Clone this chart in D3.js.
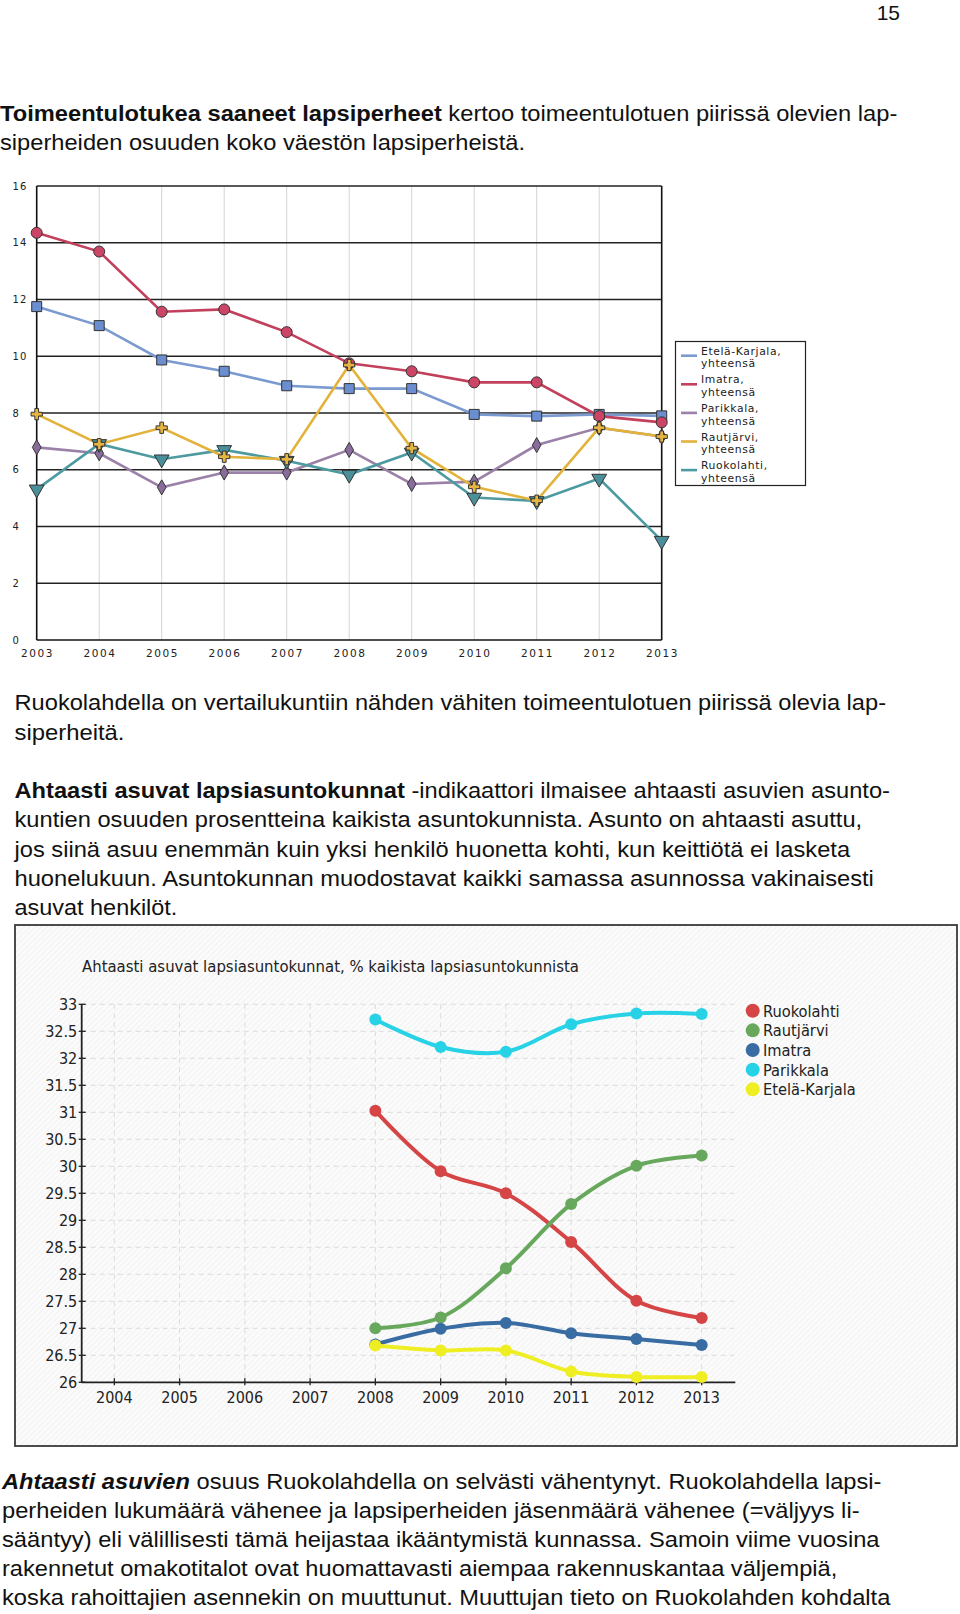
<!DOCTYPE html>
<html><head><meta charset="utf-8">
<script src="https://cdn.jsdelivr.net/npm/d3@7"></script>
<style>body{margin:0;background:#fff}svg{display:block}</style>
</head><body>
<svg id="c" width="960" height="1614"></svg>
<script>
// ---------- Chart 1 data: Toimeentulotukea saaneet lapsiperheet (%) ----------
const years1 = [2003,2004,2005,2006,2007,2008,2009,2010,2011,2012,2013];
const yTicks1 = [0,2,4,6,8,10,12,14,16];
const names1 = ["Etelä-Karjala,|yhteensä","Imatra,|yhteensä","Parikkala,|yhteensä","Rautjärvi,|yhteensä","Ruokolahti,|yhteensä"];
const eteläKarjala1 = [11.75,11.08,9.87,9.47,8.96,8.86,8.86,7.95,7.89,7.95,7.90];
const imatra1       = [14.35,13.69,11.57,11.65,10.85,9.75,9.47,9.08,9.08,7.89,7.67];
const parikkala1    = [6.79,6.58,5.38,5.90,5.90,6.70,5.50,5.58,6.87,7.48,7.17];
const rautjärvi1    = [7.96,6.90,7.48,6.46,6.37,9.69,6.76,5.40,4.91,7.48,7.17];
const ruokolahti1   = [5.31,6.91,6.37,6.70,6.32,5.83,6.61,5.02,4.90,5.69,3.50];

// ---------- Chart 2 data: Ahtaasti asuvat lapsiasuntokunnat (%) ----------
const years2 = [2008,2009,2010,2011,2012,2013];
const xTicks2 = [2004,2005,2006,2007,2008,2009,2010,2011,2012,2013];
const yTicks2 = [26,26.5,27,27.5,28,28.5,29,29.5,30,30.5,31,31.5,32,32.5,33];
const names2 = ["Ruokolahti","Rautjärvi","Imatra","Parikkala","Etelä-Karjala"];
const ruokolahti2   = [31.03,29.91,29.50,28.60,27.51,27.19];
const rautjärvi2    = [27.00,27.20,28.11,29.30,30.01,30.20];
const imatra2       = [26.70,26.99,27.10,26.91,26.80,26.69];
const parikkala2    = [32.72,32.21,32.12,32.63,32.83,32.82];
const eteläKarjala2 = [26.68,26.59,26.59,26.20,26.10,26.10];
const title2 = "Ahtaasti asuvat lapsiasuntokunnat, % kaikista lapsiasuntokunnista";

const svg = d3.select("#c");

// ---------- page text ----------
const paraLines = [
 {x:0, y:121, w:898, segs:[["Toimeentulotukea saaneet lapsiperheet","bold"],[" kertoo toimeentulotuen piirissä olevien lap-",""]]},
 {x:0, y:150, w:525, segs:[["siperheiden osuuden koko väestön lapsiperheistä.",""]]},
 {x:14.5, y:710, w:872, segs:[["Ruokolahdella on vertailukuntiin nähden vähiten toimeentulotuen piirissä olevia lap-",""]]},
 {x:14.5, y:739.5, w:110, segs:[["siperheitä.",""]]},
 {x:14.5, y:798, w:876, segs:[["Ahtaasti asuvat lapsiasuntokunnat","bold"],[" -indikaattori ilmaisee ahtaasti asuvien asunto-",""]]},
 {x:14.5, y:827, w:848, segs:[["kuntien osuuden prosentteina kaikista asuntokunnista. Asunto on ahtaasti asuttu,",""]]},
 {x:14.5, y:856.5, w:837, segs:[["jos siinä asuu enemmän kuin yksi henkilö huonetta kohti, kun keittiötä ei lasketa",""]]},
 {x:14.5, y:886, w:860, segs:[["huonelukuun. Asuntokunnan muodostavat kaikki samassa asunnossa vakinaisesti",""]]},
 {x:14.5, y:915, w:163, segs:[["asuvat henkilöt.",""]]},
 {x:2, y:1488.5, w:881, segs:[["Ahtaasti asuvien","bolditalic"],[" osuus Ruokolahdella on selvästi vähentynyt. Ruokolahdella lapsi-",""]]},
 {x:2, y:1517.5, w:858, segs:[["perheiden lukumäärä vähenee ja lapsiperheiden jäsenmäärä vähenee (=väljyys li-",""]]},
 {x:2, y:1547, w:878, segs:[["sääntyy) eli välillisesti tämä heijastaa ikääntymistä kunnassa. Samoin viime vuosina",""]]},
 {x:2, y:1576, w:836, segs:[["rakennetut omakotitalot ovat huomattavasti aiempaa rakennuskantaa väljempiä,",""]]},
 {x:2, y:1604.5, w:889, segs:[["koska rahoittajien asennekin on muuttunut. Muuttujan tieto on Ruokolahden kohdalta",""]]}
];
svg.append("text").attr("x",900).attr("y",20).attr("text-anchor","end")
  .attr("font-family","Liberation Sans, Arial, sans-serif").attr("font-size",21).attr("fill","#111").text("15");
paraLines.forEach(l=>{
  const g = svg.append("g");
  const t = g.append("text").attr("x",0).attr("y",0)
    .attr("font-family","Liberation Sans, Arial, sans-serif").attr("font-size",21.5).attr("fill","#111");
  l.segs.forEach(s=>{
    const ts = t.append("tspan").text(s[0]);
    if (s[1].includes("bold")) ts.attr("font-weight","bold");
    if (s[1].includes("italic")) ts.attr("font-style","italic");
  });
  const wNow = t.node().getBBox().width;
  g.attr("transform",`translate(${l.x},${l.y}) scale(${l.w/wNow},1)`);
});

// ---------- Chart 1 ----------
const c1 = {l:36.7, r:661.7, t:186, b:640};
const x1 = d3.scaleLinear().domain([2003,2013]).range([c1.l,c1.r]);
const y1 = d3.scaleLinear().domain([0,16]).range([c1.b,c1.t]);
const g1 = svg.append("g");
g1.selectAll(".vg").data(years1.slice(1,-1)).enter().append("line")
  .attr("x1",d=>x1(d)).attr("x2",d=>x1(d)).attr("y1",c1.t).attr("y2",c1.b)
  .attr("stroke","#d4d4d4").attr("stroke-width",1);
g1.selectAll(".hg").data(yTicks1.slice(1)).enter().append("line")
  .attr("x1",c1.l).attr("x2",c1.r).attr("y1",d=>y1(d)).attr("y2",d=>y1(d))
  .attr("stroke","#222").attr("stroke-width",1.3);
g1.append("line").attr("x1",c1.l).attr("x2",c1.l).attr("y1",c1.t).attr("y2",c1.b).attr("stroke","#111").attr("stroke-width",1.6);
g1.append("line").attr("x1",c1.r).attr("x2",c1.r).attr("y1",c1.t).attr("y2",c1.b).attr("stroke","#111").attr("stroke-width",1.6);
g1.append("line").attr("x1",c1.l).attr("x2",c1.r).attr("y1",c1.b).attr("y2",c1.b).attr("stroke","#111").attr("stroke-width",1.6);
g1.selectAll(".yl").data(yTicks1).enter().append("text")
  .attr("x",12.5).attr("y",d=>y1(d)+3.5).attr("font-family","DejaVu Sans, sans-serif")
  .attr("font-size",10).attr("letter-spacing",1.2).attr("fill","#222").text(d=>d);
g1.selectAll(".xl").data(years1).enter().append("text")
  .attr("x",d=>x1(d)+0.8).attr("y",657).attr("text-anchor","middle").attr("font-family","DejaVu Sans, sans-serif")
  .attr("font-size",10.5).attr("letter-spacing",1.6).attr("fill","#222").text(d=>d);

const ser1 = [
  {vals:eteläKarjala1, line:"#7b9ad0", fill:"#6a8ed0", sym:d3.symbolSquare, size:100, rot:0},
  {vals:imatra1,       line:"#c2405c", fill:"#cc4466", sym:d3.symbolCircle, size:95, rot:0},
  {vals:parikkala1,    line:"#9b80a8", fill:"#8a6c9c", sym:d3.symbolDiamond, size:65, rot:0},
  {vals:ruokolahti1,   line:"#4d9aa0", fill:"#4a8f99", sym:d3.symbolTriangle, size:95, rot:180},
  {vals:rautjärvi1,    line:"#e2b23a", fill:"#e6b440", sym:d3.symbolCross, size:70, rot:0}
];
const lineGen1 = d3.line().x((d,i)=>x1(years1[i])).y(d=>y1(d));
ser1.forEach(s=>{
  g1.append("path").attr("d",lineGen1(s.vals)).attr("fill","none").attr("stroke",s.line).attr("stroke-width",2.6);
});
ser1.forEach(s=>{
  g1.selectAll(null).data(s.vals).enter().append("path")
    .attr("d",d3.symbol().type(s.sym).size(s.size))
    .attr("transform",(d,i)=>`translate(${x1(years1[i])},${y1(d)}) rotate(${s.rot})`)
    .attr("fill",s.fill).attr("stroke","#333").attr("stroke-width",1);
});
// legend 1
const lg1 = svg.append("g");
lg1.append("rect").attr("x",675.5).attr("y",341.5).attr("width",130).attr("height",144)
  .attr("fill","#fff").attr("stroke","#222").attr("stroke-width",1.2);
const legOrder1 = [0,1,2,4,3];
names1.forEach((n,i)=>{
  const s = ser1[legOrder1[i]];
  const yy = 350.7 + i*28.6;
  lg1.append("line").attr("x1",681).attr("x2",697).attr("y1",yy+5).attr("y2",yy+5)
    .attr("stroke",s.line).attr("stroke-width",2.6);
  n.split("|").forEach((p,j)=>{
    lg1.append("text").attr("x",701).attr("y",yy+4+j*12.6).attr("font-family","DejaVu Sans, sans-serif")
      .attr("font-size",10.8).attr("letter-spacing",0.6).attr("fill","#222").text(p);
  });
});

// ---------- Chart 2 ----------
const defs = svg.append("defs");
const pat = defs.append("pattern").attr("id","hatch").attr("patternUnits","userSpaceOnUse")
  .attr("width",4).attr("height",4).attr("patternTransform","rotate(45)");
pat.append("rect").attr("width",4).attr("height",4).attr("fill","#fbfbfb");
pat.append("line").attr("x1",0).attr("y1",0).attr("x2",0).attr("y2",4).attr("stroke","#ececec").attr("stroke-width",1.2);
svg.append("rect").attr("x",15).attr("y",925).attr("width",942).attr("height",521)
  .attr("fill","url(#hatch)").attr("stroke","#3a3a3a").attr("stroke-width",1.8);

const c2 = {l:81.7, r:734.3, t:1004.3, b:1382.3};
const x2 = d3.scaleLinear().domain([2003.5,2013.5]).range([c2.l,c2.r]);
const y2 = d3.scaleLinear().domain([26,33]).range([c2.b,c2.t]);
const g2 = svg.append("g");
svg.append("text").attr("x",82).attr("y",972).attr("font-family","DejaVu Sans Condensed, DejaVu Sans, sans-serif")
  .attr("font-size",15.5).attr("fill","#222").attr("textLength",497).attr("lengthAdjust","spacingAndGlyphs").text(title2);
g2.selectAll(".vg").data(xTicks2).enter().append("line")
  .attr("x1",d=>x2(d)).attr("x2",d=>x2(d)).attr("y1",c2.t).attr("y2",c2.b)
  .attr("stroke","#dcdcdc").attr("stroke-width",1).attr("stroke-dasharray","5,4");
g2.selectAll(".hg").data(yTicks2.slice(1)).enter().append("line")
  .attr("x1",c2.l).attr("x2",c2.r).attr("y1",d=>y2(d)).attr("y2",d=>y2(d))
  .attr("stroke","#dcdcdc").attr("stroke-width",1).attr("stroke-dasharray","5,4");
g2.append("line").attr("x1",c2.l).attr("x2",c2.l).attr("y1",c2.t).attr("y2",c2.b).attr("stroke","#222").attr("stroke-width",1.8);
g2.append("line").attr("x1",c2.l).attr("x2",c2.r+1).attr("y1",c2.b).attr("y2",c2.b).attr("stroke","#222").attr("stroke-width",1.8);
g2.selectAll(".yt").data(yTicks2).enter().append("line")
  .attr("x1",c2.l-3).attr("x2",c2.l+4).attr("y1",d=>y2(d)).attr("y2",d=>y2(d)).attr("stroke","#222").attr("stroke-width",1.3);
g2.selectAll(".xt").data(xTicks2).enter().append("line")
  .attr("x1",d=>x2(d)).attr("x2",d=>x2(d)).attr("y1",c2.b-4).attr("y2",c2.b+3).attr("stroke","#222").attr("stroke-width",1.3);
g2.selectAll(".yl").data(yTicks2).enter().append("text")
  .attr("x",c2.l-4.5).attr("y",d=>y2(d)+6).attr("text-anchor","end")
  .attr("font-family","DejaVu Sans Condensed, DejaVu Sans, sans-serif").attr("font-size",16).attr("fill","#222").text(d=>d);
g2.selectAll(".xl").data(xTicks2).enter().append("text")
  .attr("x",d=>x2(d)).attr("y",1403).attr("text-anchor","middle")
  .attr("font-family","DejaVu Sans Condensed, DejaVu Sans, sans-serif").attr("font-size",16).attr("fill","#222").text(d=>d);

const ser2 = [
  {vals:ruokolahti2,   col:"#d64545"},
  {vals:rautjärvi2,    col:"#68a85c"},
  {vals:imatra2,       col:"#386ca3"},
  {vals:parikkala2,    col:"#27d2e6"},
  {vals:eteläKarjala2, col:"#eeee22"}
];
const lineGen2 = d3.line().x((d,i)=>x2(years2[i])).y(d=>y2(d)).curve(d3.curveCatmullRom.alpha(0.5));
ser2.forEach(s=>{
  g2.append("path").attr("d",lineGen2(s.vals)).attr("fill","none").attr("stroke",s.col)
    .attr("stroke-width",4).attr("stroke-linecap","round");
  g2.selectAll(null).data(s.vals).enter().append("circle")
    .attr("cx",(d,i)=>x2(years2[i])).attr("cy",d=>y2(d)).attr("r",6).attr("fill",s.col);
});
names2.forEach((n,i)=>{
  const yy = 1010.7 + i*19.65;
  svg.append("circle").attr("cx",752.7).attr("cy",yy).attr("r",7).attr("fill",ser2[i].col);
  svg.append("text").attr("x",763).attr("y",yy+6).attr("font-family","DejaVu Sans Condensed, DejaVu Sans, sans-serif")
    .attr("font-size",16.3).attr("fill","#222").text(n);
});
</script>
</body></html>
